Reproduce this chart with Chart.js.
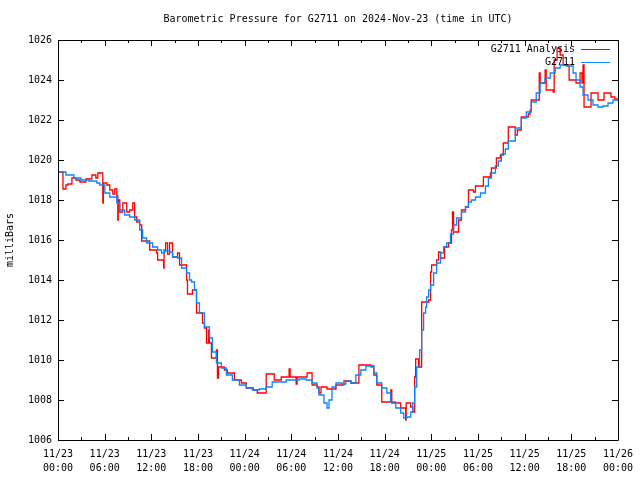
<!DOCTYPE html>
<html><head><meta charset="utf-8">
<script src="https://cdn.jsdelivr.net/npm/chart.js@4/dist/chart.umd.min.js"></script>
<style>html,body{margin:0;padding:0;background:#fff}canvas{display:block}</style>
</head><body>
<canvas id="c" width="640" height="480"></canvas>
<script>
const TITLE = 'Barometric Pressure for G2711 on 2024-Nov-23 (time in UTC)';
const Y_LABEL = 'milliBars';
const seriesNames = ['G2711 Analysis', 'G2711'];
const xTickDates = ['11/23','11/23','11/23','11/23','11/24','11/24','11/24','11/24','11/25','11/25','11/25','11/25','11/26'];
const xTickTimes = ['00:00','06:00','12:00','18:00','00:00','06:00','12:00','18:00','00:00','06:00','12:00','18:00','00:00'];
const yTickValues = [1006,1008,1010,1012,1014,1016,1018,1020,1022,1024,1026];

// hours since 2024-11-23 00:00 UTC
const analysisHours = [0,0.64,1.02,1.28,1.79,2.31,2.82,3.59,4.36,4.87,5.12,5.76,5.83,6.28,6.66,7.05,7.3,7.56,7.69,7.75,7.94,8.33,8.84,9.22,9.61,9.86,10.12,10.5,10.76,11.79,12.68,12.81,13.58,13.64,13.84,14.09,14.35,14.73,15.37,15.63,16.53,16.65,17.29,17.81,18.58,18.83,19.09,19.34,19.47,19.73,20.37,20.5,20.63,21.39,21.78,22.68,23.57,24.21,25.11,25.62,26.77,27.8,28.7,29.72,29.85,30.62,30.75,32.03,32.67,33.31,33.56,33.82,34.59,35.74,36.77,37.66,38.69,40.23,40.61,40.99,41.63,42.79,42.92,44.07,44.71,44.77,45.35,45.61,45.86,45.99,46.37,46.76,47.66,47.91,48.04,48.68,48.94,49.19,49.71,50.22,50.6,50.73,50.86,51.5,51.88,52.4,52.78,53.42,53.68,54.7,55.6,55.73,56.37,56.88,57.26,57.9,58.8,59.06,59.57,60.47,60.72,60.85,61.88,62.0,62.64,62.77,63.67,63.8,64.18,64.57,64.95,65.72,66.61,67.13,67.38,67.51,67.64,68.54,69.44,70.21,71.1,71.61,72];
const analysisValues = [1019.4,1018.55,1018.75,1018.8,1019.1,1019.0,1018.9,1019.05,1019.25,1019.1,1019.35,1017.85,1018.85,1018.75,1018.5,1018.3,1018.55,1018.2,1017.0,1018.0,1017.4,1017.85,1017.4,1017.5,1017.85,1017.15,1016.9,1016.75,1015.95,1015.5,1015.35,1015.0,1014.6,1015.5,1015.85,1015.3,1015.85,1015.15,1015.35,1014.75,1014.0,1013.3,1013.5,1012.35,1011.85,1011.6,1010.85,1011.5,1010.85,1010.1,1010.5,1009.1,1009.65,1009.5,1009.35,1009.0,1008.85,1008.6,1008.5,1008.35,1009.3,1009.0,1009.15,1009.55,1009.15,1008.8,1009.15,1009.35,1008.75,1008.65,1008.35,1008.65,1008.55,1008.75,1008.95,1008.85,1009.75,1009.7,1009.25,1008.75,1007.9,1008.5,1007.85,1007.6,1007.0,1007.85,1007.65,1007.4,1009.15,1010.05,1009.65,1012.9,1013.0,1014.4,1014.75,1015.0,1015.4,1015.1,1015.65,1015.85,1016.5,1017.4,1016.4,1017.0,1017.5,1017.65,1018.5,1018.4,1018.7,1019.15,1019.35,1019.6,1020.1,1020.25,1020.85,1021.65,1021.25,1021.5,1022.15,1022.3,1022.5,1023.0,1024.35,1023.85,1024.5,1023.5,1023.4,1025.0,1025.6,1025.25,1024.75,1024.0,1023.85,1024.35,1023.85,1024.75,1022.65,1023.35,1023.0,1023.35,1023.15,1023.05,1023.05];

const stationHours = [0,1.02,2.05,2.95,3.97,5.0,5.38,6.02,6.66,7.56,7.94,8.58,9.22,9.86,10.5,10.89,11.4,12.17,12.81,13.32,13.71,14.35,14.73,15.37,15.89,16.53,16.91,17.17,17.55,17.81,18.19,18.83,19.47,19.86,20.37,21.01,21.65,22.42,23.32,24.21,24.98,25.88,26.77,27.54,28.44,29.34,30.11,31.0,31.9,32.67,33.31,33.56,34.2,34.59,34.85,35.23,35.74,36.51,37.02,37.66,38.3,38.94,39.59,40.23,40.61,40.99,41.63,42.28,42.79,43.43,44.07,44.45,44.84,45.35,45.61,45.86,46.12,46.5,46.76,47.01,47.27,47.4,47.66,47.91,48.3,48.68,49.19,49.58,49.97,50.47,50.86,51.24,51.88,52.4,52.78,53.17,53.68,54.32,54.96,55.34,55.73,56.24,56.62,57.01,57.52,57.9,58.8,59.57,60.21,60.85,61.49,62.0,62.64,63.29,63.93,64.57,65.33,65.85,66.23,66.61,67.13,67.51,68.15,68.79,69.44,70.08,70.72,71.36,72];
const stationValues = [1019.4,1019.25,1019.1,1019.0,1018.95,1018.85,1018.75,1018.35,1018.15,1017.85,1017.5,1017.25,1017.15,1017.0,1016.5,1016.1,1015.85,1015.65,1015.5,1015.35,1015.45,1015.4,1015.15,1015.1,1014.6,1014.35,1014.0,1013.9,1013.5,1012.85,1012.35,1011.65,1011.1,1010.4,1009.85,1009.6,1009.25,1009.0,1008.75,1008.6,1008.5,1008.55,1008.65,1008.9,1008.9,1009.0,1009.0,1009.05,1009.0,1008.85,1008.6,1008.25,1007.85,1007.6,1008.0,1008.65,1008.85,1008.8,1008.95,1008.85,1009.25,1009.5,1009.7,1009.65,1009.35,1008.85,1008.6,1008.35,1007.9,1007.6,1007.35,1007.1,1007.15,1007.4,1007.85,1008.65,1009.65,1010.5,1011.5,1012.35,1012.65,1013.15,1013.5,1013.75,1014.35,1014.85,1015.35,1015.65,1015.85,1016.3,1016.75,1017.1,1017.4,1017.65,1017.9,1018.0,1018.15,1018.35,1018.7,1019.1,1019.35,1019.7,1019.95,1020.3,1020.55,1020.95,1021.6,1022.1,1022.4,1022.9,1023.35,1023.85,1024.1,1024.35,1024.6,1024.75,1024.7,1024.7,1024.35,1024.0,1023.65,1023.25,1023.0,1022.75,1022.65,1022.7,1022.85,1023.0,1023.05];

const FONT = '"DejaVu Sans Mono", "Liberation Mono", monospace';
const RED = '#ff0000';
const BLUE = '#0a84ff';

function toPoints(xs, ys) { return xs.map((x, i) => ({ x: x, y: ys[i] })); }

const framePlugin = {
  id: 'frame',
  afterDraw(chart) {
    const ctx = chart.ctx, a = chart.chartArea;
    const xs = chart.scales.x, ys = chart.scales.y;
    ctx.save();
    ctx.strokeStyle = '#000';
    ctx.lineWidth = 1;
    ctx.beginPath();
    ctx.rect(Math.round(a.left) + 0.5, Math.round(a.top) + 0.5, Math.round(a.right - a.left), Math.round(a.bottom - a.top));
    ctx.stroke();
    ctx.beginPath();
    for (let h = 0; h <= 72; h += 3) {
      const px = Math.round(xs.getPixelForValue(h)) + 0.5;
      const len = (h % 6 === 0) ? 6 : 3;
      ctx.moveTo(px, a.bottom); ctx.lineTo(px, a.bottom - len);
      ctx.moveTo(px, a.top); ctx.lineTo(px, a.top + len);
    }
    yTickValues.forEach(v => {
      const py = Math.round(ys.getPixelForValue(v)) + 0.5;
      ctx.moveTo(a.left, py); ctx.lineTo(a.left + 6, py);
      ctx.moveTo(a.right, py); ctx.lineTo(a.right - 6, py);
    });
    ctx.stroke();
    // title
    ctx.fillStyle = '#000';
    ctx.font = '10px ' + FONT;
    ctx.textAlign = 'center';
    ctx.textBaseline = 'middle';
    ctx.fillText(TITLE, (a.left + a.right) / 2, 19);
    // legend
    const colors = [RED, BLUE];
    ctx.textAlign = 'right';
    seriesNames.forEach((n, i) => {
      const y = 49 + i * 13;
      ctx.fillStyle = '#000';
      ctx.fillText(n, 575, y);
      ctx.strokeStyle = colors[i];
      ctx.beginPath();
      ctx.moveTo(581, y + 0.5); ctx.lineTo(610, y + 0.5);
      ctx.stroke();
    });
    ctx.restore();
  }
};

new Chart(document.getElementById('c'), {
  type: 'line',
  data: {
    datasets: [
      { label: seriesNames[0], data: toPoints(analysisHours, analysisValues), borderColor: RED, borderWidth: 1.3, pointRadius: 0, stepped: true, fill: false, order: 2 },
      { label: seriesNames[1], data: toPoints(stationHours, stationValues), borderColor: BLUE, borderWidth: 1.3, pointRadius: 0, stepped: true, fill: false, order: 1 }
    ]
  },
  options: {
    responsive: false,
    animation: false,
    devicePixelRatio: 1,
    layout: { padding: { top: 40, right: 20, left: 0, bottom: 0 } },
    plugins: { legend: { display: false }, tooltip: { enabled: false }, title: { display: false } },
    scales: {
      x: {
        type: 'linear', min: 0, max: 72,
        afterFit(s) { s.height = 40; },
        afterBuildTicks(s) { s.ticks = xTickDates.map((d, i) => ({ value: i * 6 })); },
        grid: { display: false, drawTicks: false },
        border: { display: false },
        ticks: {
          autoSkip: false, maxRotation: 0, padding: 7, color: '#000',
          font: { family: FONT, size: 10, lineHeight: 1.4 },
          callback: (v) => { const i = Math.round(v / 6); return [xTickDates[i], xTickTimes[i]]; }
        }
      },
      y: {
        min: 1006, max: 1026,
        afterFit(s) { s.width = 58; },
        afterBuildTicks(s) { s.ticks = yTickValues.map(v => ({ value: v })); },
        grid: { display: false, drawTicks: false },
        border: { display: false },
        ticks: { padding: 6, color: '#000', font: { family: FONT, size: 10 }, callback: v => String(v) },
        title: { display: true, text: Y_LABEL, color: '#000', font: { family: FONT, size: 10 }, padding: { top: 4, bottom: 0 } }
      }
    }
  },
  plugins: [framePlugin]
});
</script>
</body></html>
